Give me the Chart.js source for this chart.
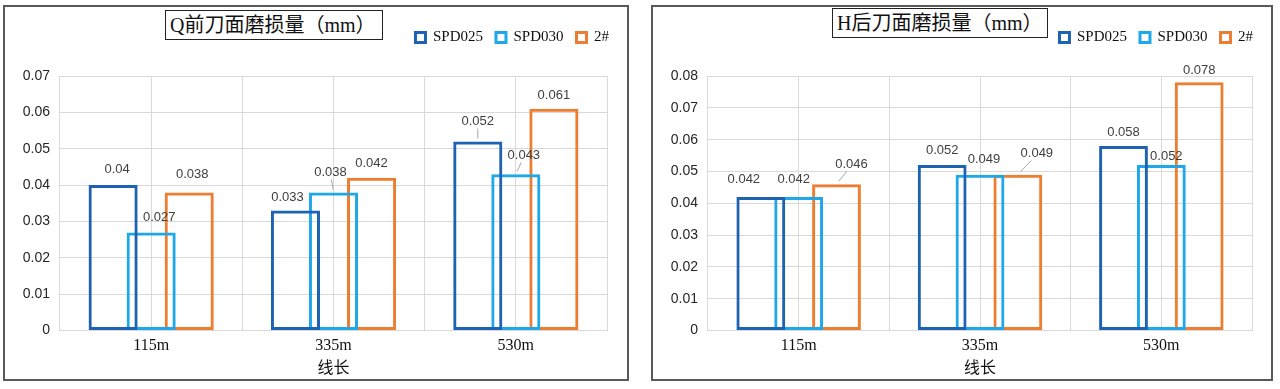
<!DOCTYPE html>
<html>
<head>
<meta charset="utf-8">
<script src="https://cdn.jsdelivr.net/npm/chart.js@4.4.1/dist/chart.umd.min.js"></script>
<style>
  body { margin: 0; background: #fff; width: 1280px; height: 389px; position: relative; overflow: hidden; }
  .panel { position: absolute; top: 5px; height: 372px; border: 2px solid #595959; background: #fff; }
  .ttl { position: absolute; border: 1px solid #222; font: 20px "Liberation Serif", "Noto Sans CJK SC", serif;
         color: #111; padding: 0 4px; line-height: 28px; white-space: nowrap; background: #fff; z-index: 2; }
  canvas { position: absolute; left: 0; top: 0; }
</style>
</head>
<body>
<div class="panel" style="left:3px;width:622px;">
  <div class="ttl" style="left:160px;top:3px;padding:0 6px 0 4px;">Q前刀面磨损量（mm）</div>
  <canvas id="chartQ" width="622" height="372"></canvas>
</div>
<div class="panel" style="left:651px;width:618px;">
  <div class="ttl" style="left:179px;top:1px;">H后刀面磨损量（mm）</div>
  <canvas id="chartH" width="618" height="372"></canvas>
</div>
<script>
// data
const categories = ['115m', '335m', '530m'];
const seriesNames = ['SPD025', 'SPD030', '2#'];

const frontSpd025 = [0.04, 0.033, 0.052];
const frontSpd030 = [0.027, 0.038, 0.043];
const front2 = [0.038, 0.042, 0.061];

const flankSpd025 = [0.042, 0.052, 0.058];
const flankSpd030 = [0.042, 0.049, 0.052];
const flank2 = [0.046, 0.049, 0.078];

const frontTicks = ['0', '0.01', '0.02', '0.03', '0.04', '0.05', '0.06', '0.07'];
const flankTicks = ['0', '0.01', '0.02', '0.03', '0.04', '0.05', '0.06', '0.07', '0.08'];

const colors = ['#1E62B3', '#1EA8EA', '#ED7D31'];

// label nudges [dx, dy, leader] per dataset, per category (Excel moved some labels)
const frontNudge = [
  [[4, 0], [-8, 3], [0, -4, 1]],
  [[8, 1], [-3, -4, 1], [8, -3, 1]],
  [[3, -2], [0, 2], [0, 3]]
];
const flankNudge = [
  [[-17, -2], [0, 1], [0, 2]],
  [[-5, -2], [4, 1], [5, 7]],
  [[15, -4, 1], [19, -5, 1], [0, 4]]
];

const sans = '"Liberation Sans", Arial, sans-serif';
const serif = '"Liberation Serif", "Noto Sans CJK SC", serif';

const valueLabels = {
  id: 'valueLabels',
  afterDatasetsDraw(chart, args, opts) {
    const ctx = chart.ctx;
    ctx.save();
    ctx.font = '13px ' + sans;
    ctx.fillStyle = '#404040';
    ctx.textAlign = 'center';
    ctx.textBaseline = 'middle';
    chart.data.datasets.forEach((ds, di) => {
      chart.getDatasetMeta(di).data.forEach((bar, i) => {
        const n = opts.nudge[di][i] || [0, 0];
        const lx = bar.x + n[0];
        const ly = bar.y - 16 + n[1];
        if (n[2]) {
          ctx.strokeStyle = '#A6A6A6';
          ctx.lineWidth = 1;
          ctx.beginPath();
          ctx.moveTo(bar.x + n[0] * 0.15, bar.y - 3);
          ctx.lineTo(lx - n[0] * 0.3, ly + 7);
          ctx.stroke();
        }
        ctx.fillText(String(ds.data[i]), lx, ly);
      });
    });
    ctx.restore();
  }
};

function makeChart(id, values, yMax, tickLabels, nudge, rightGap) {
  const datasets = values.map((v, k) => ({
    label: seriesNames[k],
    data: v,
    backgroundColor: 'rgba(0,0,0,0)',
    borderColor: colors[k],
    borderWidth: 3,
    borderSkipped: false,
    categoryPercentage: 0.626,
    barPercentage: 1.29
  }));
  return new Chart(document.getElementById(id), {
    type: 'bar',
    data: { labels: categories, datasets },
    plugins: [valueLabels],
    options: {
      responsive: false,
      animation: false,
      layout: { padding: { top: 10, right: 5, bottom: 1, left: 0 } },
      plugins: {
        legend: {
          position: 'top',
          align: 'end',
          labels: { boxWidth: 10, boxHeight: 10, padding: 13, color: '#111', font: { family: serif, size: 15 } }
        },
        tooltip: { enabled: false },
        valueLabels: { nudge }
      },
      scales: {
        x: {
          offset: true,
          grid: { offset: true, color: '#D9D9D9', drawTicks: false },
          border: { display: false },
          ticks: { color: '#111', padding: 6, font: { family: serif, size: 16 } },
          title: { display: true, text: '线长', color: '#111', padding: { top: -3, bottom: 0 }, font: { family: serif, size: 16 } }
        },
        x2: {
          labels: categories,
          offset: true,
          position: 'top',
          grid: { offset: false, color: '#D9D9D9', drawTicks: false },
          border: { display: false },
          ticks: { display: false },
          afterFit: s => { s.height = 21; }
        },
        y: {
          min: 0, max: yMax,
          ticks: { stepSize: 0.01, padding: 10, color: '#262626', font: { family: sans, size: 14 },
                   callback: (v, i) => tickLabels[i] },
          grid: { color: '#D9D9D9', drawTicks: false },
          border: { display: false },
          afterFit: s => { s.width = 55; }
        },
        yGap: {
          position: 'right',
          grid: { display: false },
          border: { display: false },
          ticks: { display: false },
          afterFit: s => { s.width = rightGap; }
        }
      }
    }
  });
}

makeChart('chartQ', [frontSpd025, frontSpd030, front2], 0.07, frontTicks, frontNudge, 15);
makeChart('chartH', [flankSpd025, flankSpd030, flank2], 0.08, flankTicks, flankNudge, 14);
</script>
</body>
</html>
